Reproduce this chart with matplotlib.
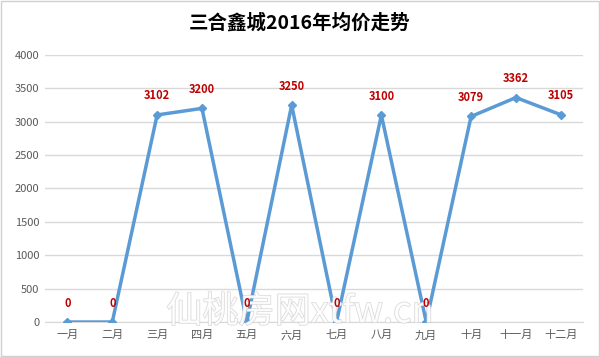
import matplotlib.pyplot as plt
import matplotlib.patheffects as pe

plt.rcParams['font.family'] = ['Noto Sans CJK SC', 'DejaVu Sans']

months = ["一月", "二月", "三月", "四月", "五月", "六月",
          "七月", "八月", "九月", "十月", "十一月", "十二月"]
prices = [0, 0, 3102, 3200, 0, 3250, 0, 3100, 0, 3079, 3362, 3105]
y_ticks = [0, 500, 1000, 1500, 2000, 2500, 3000, 3500, 4000]

fig = plt.figure(figsize=(6, 3.57), dpi=100)
fig.patches.append(plt.Rectangle((0.002, 0.003), 0.996, 0.994, transform=fig.transFigure,
                                 fill=False, edgecolor="#d0d0d0", linewidth=1))
ax = fig.add_axes([0.075, 0.098, 0.897, 0.748])

x = list(range(len(months)))
ax.plot(x, prices, color="#5B9BD5", linewidth=2.5, marker="D", markersize=4,
        zorder=3, solid_joinstyle="miter")

for xi, v in zip(x, prices):
    ax.annotate(str(v), (xi, v), xytext=(0, 9), textcoords="offset points",
                ha="center", va="bottom", color="#C00000", fontsize=8,
                fontweight="bold", zorder=12)

ax.set_xlim(-0.5, len(months) - 0.5)
ax.set_ylim(0, 4000)
ax.set_yticks(y_ticks)
ax.set_xticks(x)
ax.set_xticklabels(months)
ax.yaxis.grid(True, color="#d9d9d9", linewidth=1)
ax.set_axisbelow(True)
for s in ["top", "right", "left"]:
    ax.spines[s].set_visible(False)
ax.spines["bottom"].set_color("#d9d9d9")
ax.tick_params(axis="both", length=0, labelsize=8, colors="#595959")
ax.tick_params(axis="x", pad=6)
ax.tick_params(axis="y", pad=4)

fig.text(0.5, 0.935, "三合鑫城2016年均价走势", ha="center", va="center",
         fontsize=14, fontweight="bold", color="#000000")

# watermark, drawn above the line but beneath the value labels
ax.text(0.5, 0.125, "仙桃房网xtfw.cn", transform=fig.transFigure,
        ha="center", va="center", fontsize=26, color="white", alpha=0.8,
        zorder=10, path_effects=[pe.withStroke(linewidth=1.0, foreground="#d0d0d0")])

fig.savefig("out.png", dpi=100)
